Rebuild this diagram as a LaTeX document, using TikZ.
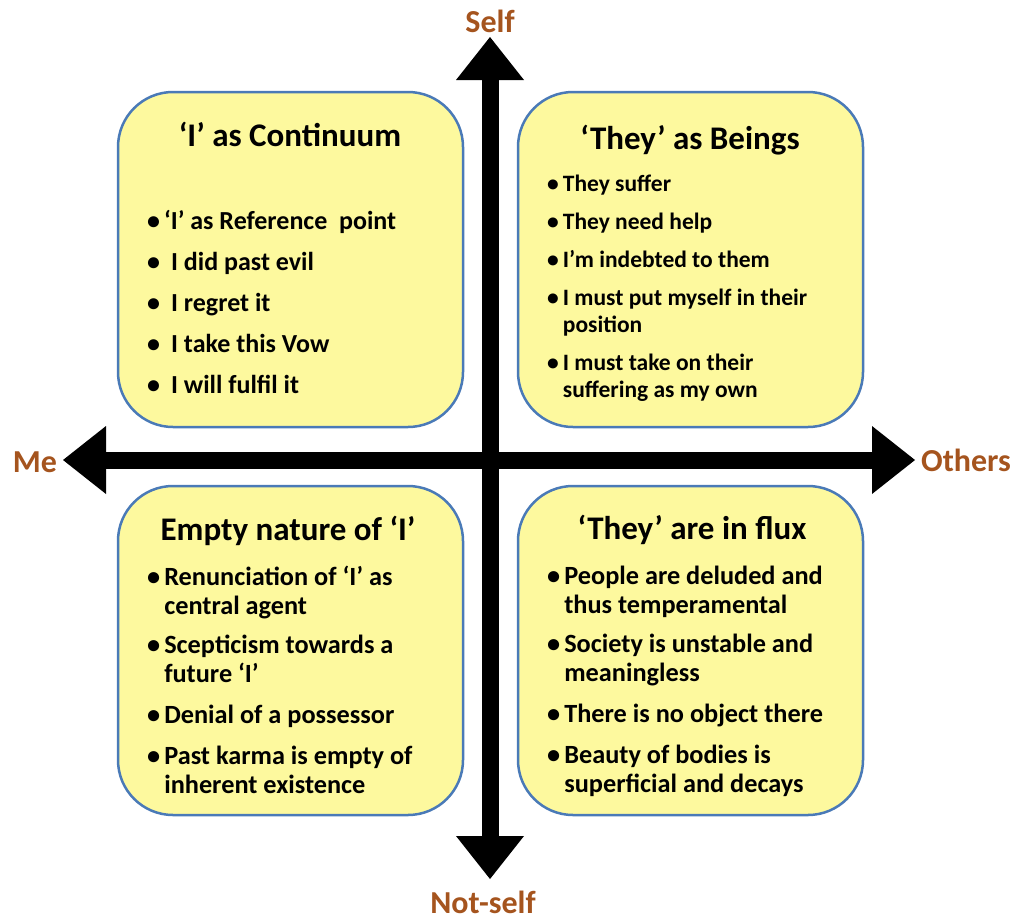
\documentclass[tikz,border=0pt]{standalone}
\usepackage{fontspec}
\setmainfont{Carlito}
\usetikzlibrary{arrows.meta}
\definecolor{boxfill}{RGB}{253,249,158}
\definecolor{boxline}{RGB}{74,122,183}
\definecolor{axislabel}{RGB}{165,84,30}
\tikzset{
  quadrant/.style={draw=boxline, line width=2.5pt, fill=boxfill, rounded corners=55pt,
    minimum width=345pt, inner sep=0pt},
  heading/.style={font=\fontsize{33}{37}\selectfont\bfseries, inner sep=0pt},
  itemlist/.style={anchor=base west, inner sep=0pt},
  axislbl/.style={font=\fontsize{32}{36}\selectfont\bfseries, text=axislabel, inner sep=0pt},
  axisarrow/.style={line width=17pt, {Triangle[length=43pt,width=68pt,line width=0pt]}-{Triangle[length=43pt,width=68pt,line width=0pt]}},
}
\newcommand{\bul}{\textbullet}
\begin{document}
\begin{tikzpicture}[x=1pt,y=-1pt]
\useasboundingbox (0,0) rectangle (1017,921);

% axis end points and their labels
\coordinate (toptip) at (490,37);
\coordinate (bottomtip) at (490,879);
\coordinate (lefttip) at (63,460);
\coordinate (righttip) at (915,460);
\node[axislbl] (self) at (490,21) {Self};
\node[axislbl] (notself) at (483,902) {Not-self};
\node[axislbl] (me) at (35,462) {Me};
\node[axislbl] (others) at (966,460) {Others};

% the two axes
\draw[axisarrow] (lefttip) -- (righttip);
\draw[axisarrow] (toptip) -- (bottomtip);

% quadrant boxes
\node[quadrant, minimum height=335pt] (tl) at (290.5,259.5) {};
\node[quadrant, minimum height=335pt] (tr) at (690.5,259.5) {};
\node[quadrant, minimum height=329pt] (bl) at (290.5,650.5) {};
\node[quadrant, minimum height=329pt] (br) at (690.5,650.5) {};

% top left: the I as continuum
\node[heading] (tlhead) at (290,134) {‘I’ as Continuum};
\node[itemlist, font=\fontsize{26}{41}\selectfont\bfseries] (tllist) at (147,229) {%
\begin{tabular}[t]{@{}l@{\hspace{4pt}}l@{}}
\bul & ‘I’ as Reference\ \ point\\
\bul & \hspace{7pt}I did past evil\\
\bul & \hspace{7pt}I regret it\\
\bul & \hspace{7pt}I take this Vow\\
\bul & \hspace{7pt}I will fulfil it
\end{tabular}};

% top right: they as beings
\node[heading] (trhead) at (690,140) {‘They’ as Beings};
\node[itemlist, font=\fontsize{23.5}{27}\selectfont\bfseries] (trlist) at (547,191) {%
\begin{tabular}[t]{@{}l@{\hspace{4pt}}l@{}}
\bul & They suffer\\[11pt]
\bul & They need help\\[11pt]
\bul & I’m indebted to them\\[11pt]
\bul & I must put myself in their\\
     & position\\[11pt]
\bul & I must take on their\\
     & suffering as my own
\end{tabular}};

% bottom left: empty nature of I
\node[heading] (blhead) at (288,531) {Empty nature of ‘I’};
\node[itemlist, font=\fontsize{26.3}{29}\selectfont\bfseries] (bllist) at (147,585) {%
\begin{tabular}[t]{@{}l@{\hspace{4pt}}l@{}}
\bul & Renunciation of ‘I’ as\\
     & central agent\\[10pt]
\bul & Scepticism towards a\\
     & future ‘I’\\[12pt]
\bul & Denial of a possessor\\[12pt]
\bul & Past karma is empty of\\
     & inherent existence
\end{tabular}};

% bottom right: they are in flux
\node[heading] (brhead) at (692,530) {‘They’ are in flux};
\node[itemlist, font=\fontsize{26.3}{29}\selectfont\bfseries] (brlist) at (547,584) {%
\begin{tabular}[t]{@{}l@{\hspace{4pt}}l@{}}
\bul & People are deluded and\\
     & thus temperamental\\[10pt]
\bul & Society is unstable and\\
     & meaningless\\[12pt]
\bul & There is no object there\\[12pt]
\bul & Beauty of bodies is\\
     & superficial and decays
\end{tabular}};
\end{tikzpicture}
\end{document}
